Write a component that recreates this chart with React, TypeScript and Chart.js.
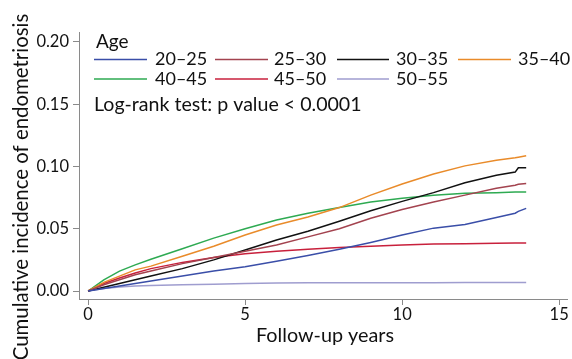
import React, { useEffect, useRef } from "react";
import { Chart, registerables } from "chart.js";

Chart.register(...registerables);

const years = [0, 0.5, 1, 1.5, 2, 3, 4, 5, 6, 7, 8, 9, 10, 11, 12, 13, 13.6, 13.7, 13.95];
const age2025 = [0, 0.002, 0.004, 0.006, 0.008, 0.012, 0.016, 0.0195, 0.024, 0.0285, 0.0335, 0.039, 0.045, 0.0505, 0.0535, 0.059, 0.0625, 0.064, 0.0664];
const age2530 = [0, 0.005, 0.009, 0.013, 0.016, 0.022, 0.027, 0.032, 0.037, 0.0435, 0.05, 0.0585, 0.0655, 0.0715, 0.077, 0.0825, 0.085, 0.0858, 0.0864];
const age3035 = [0, 0.003, 0.006, 0.009, 0.012, 0.018, 0.025, 0.033, 0.041, 0.048, 0.056, 0.0645, 0.072, 0.079, 0.087, 0.093, 0.0955, 0.099, 0.099];
const age3540 = [0, 0.007, 0.012, 0.017, 0.02, 0.028, 0.036, 0.045, 0.053, 0.0595, 0.067, 0.077, 0.086, 0.094, 0.1005, 0.105, 0.107, 0.1075, 0.1086];
const age4045 = [0, 0.009, 0.016, 0.021, 0.0255, 0.034, 0.0425, 0.05, 0.057, 0.0625, 0.067, 0.0715, 0.0745, 0.077, 0.0785, 0.079, 0.0795, 0.0795, 0.0795];
const age4550 = [0, 0.006, 0.0105, 0.0145, 0.018, 0.023, 0.027, 0.03, 0.032, 0.0335, 0.035, 0.036, 0.037, 0.0378, 0.038, 0.0383, 0.0385, 0.0385, 0.0385];
const age5055 = [0, 0.002, 0.0032, 0.004, 0.0045, 0.005, 0.0055, 0.006, 0.0065, 0.0067, 0.0067, 0.0067, 0.0067, 0.0067, 0.0068, 0.0068, 0.0068, 0.0068, 0.0068];

const seriesLabels = ["20–25", "25–30", "30–35", "35–40", "40–45", "45–50", "50–55"];
const seriesValues = [age2025, age2530, age3035, age3540, age4045, age4550, age5055];
const seriesColors = ["#3a4ea8", "#a3434f", "#111111", "#e98b2a", "#2eaa52", "#c8203c", "#9f9dcf"];

const yTicks = [0, 0.05, 0.1, 0.15, 0.2];
const xTicks = [0, 5, 10, 15];

const legendTitle = "Age";
const testNote = "Log-rank test: p value < 0.0001";
const yTitle = "Cumulative incidence of endometriosis";
const xTitle = "Follow-up years";

const FONT = "Lato";
const TEXT = "#111111";
const AXIS = "#8a8a8a";

const overlay = {
  id: "overlay",
  afterDraw(chart: any) {
    const ctx = chart.ctx;
    ctx.save();
    ctx.fillStyle = TEXT;
    ctx.textBaseline = "middle";
    ctx.textAlign = "left";
    ctx.font = `19px ${FONT}`;
    ctx.fillText(legendTitle, 96, 42);
    ctx.font = `18px ${FONT}`;
    const cols = [[94, 147, 155], [215, 268, 274], [337, 389, 396], [458, 511, 518]];
    const rows = [59.5, 79];
    seriesLabels.forEach((lab, i) => {
      const r = Math.floor(i / 4);
      const c = i % 4;
      const [x0, x1, tx] = cols[c];
      const y = rows[r];
      ctx.strokeStyle = seriesColors[i];
      ctx.lineWidth = 1.5;
      ctx.beginPath();
      ctx.moveTo(x0, y);
      ctx.lineTo(x1, y);
      ctx.stroke();
      ctx.fillStyle = TEXT;
      ctx.fillText(lab, tx, y);
    });
    ctx.font = `19.6px ${FONT}`;
    ctx.fillText(testNote, 94, 105);
    ctx.textAlign = "center";
    ctx.font = `19.8px ${FONT}`;
    ctx.fillText(xTitle, 325, 336);
    ctx.font = `20.4px ${FONT}`;
    ctx.translate(21, 187);
    ctx.rotate(-Math.PI / 2);
    ctx.fillText(yTitle, 0, 0);
    ctx.restore();
  },
};

export default function App() {
  const ref = useRef<HTMLCanvasElement>(null);
  useEffect(() => {
    if (!ref.current) return;
    const chart = new Chart(ref.current, {
      type: "line",
      data: {
        datasets: seriesLabels.map((lab, i) => ({
          label: lab,
          data: years.map((x, j) => ({ x, y: seriesValues[i][j] })),
          borderColor: seriesColors[i],
          backgroundColor: seriesColors[i],
          borderWidth: 1.5,
          pointRadius: 0,
          tension: 0,
          fill: false,
        })),
      },
      options: {
        responsive: false,
        animation: false,
        layout: { padding: { top: 32, right: 5, left: 0, bottom: 0 } },
        plugins: { legend: { display: false }, tooltip: { enabled: false }, title: { display: false } },
        scales: {
          x: {
            type: "linear",
            min: -0.29,
            max: 15.25,
            afterBuildTicks: (s: any) => { s.ticks = xTicks.map((v) => ({ value: v })); },
            afterFit: (s: any) => { s.height = 60; },
            ticks: { font: { family: FONT, size: 16.5 }, color: TEXT, padding: 0, callback: (v: any) => String(v), maxRotation: 0 },
            grid: { drawOnChartArea: false, drawTicks: true, tickLength: 6, color: AXIS, tickWidth: 1 },
            border: { display: true, color: AXIS, width: 1 },
          },
          y: {
            type: "linear",
            min: -0.0064,
            max: 0.208,
            afterBuildTicks: (s: any) => { s.ticks = yTicks.map((v) => ({ value: v })); },
            afterFit: (s: any) => { s.width = 79; },
            ticks: { font: { family: FONT, size: 16.5 }, color: TEXT, padding: 4, callback: (v: any) => Number(v).toFixed(2) },
            grid: { drawOnChartArea: false, drawTicks: true, tickLength: 6, color: AXIS, tickWidth: 1 },
            border: { display: true, color: AXIS, width: 1 },
          },
        },
      },
      plugins: [overlay],
    });
    return () => chart.destroy();
  }, []);
  return (
    <div style={{ position: "absolute", left: 0, top: 0, width: 572, height: 359, background: "#fff" }}>
      <canvas ref={ref} width={572} height={359} />
    </div>
  );
}
